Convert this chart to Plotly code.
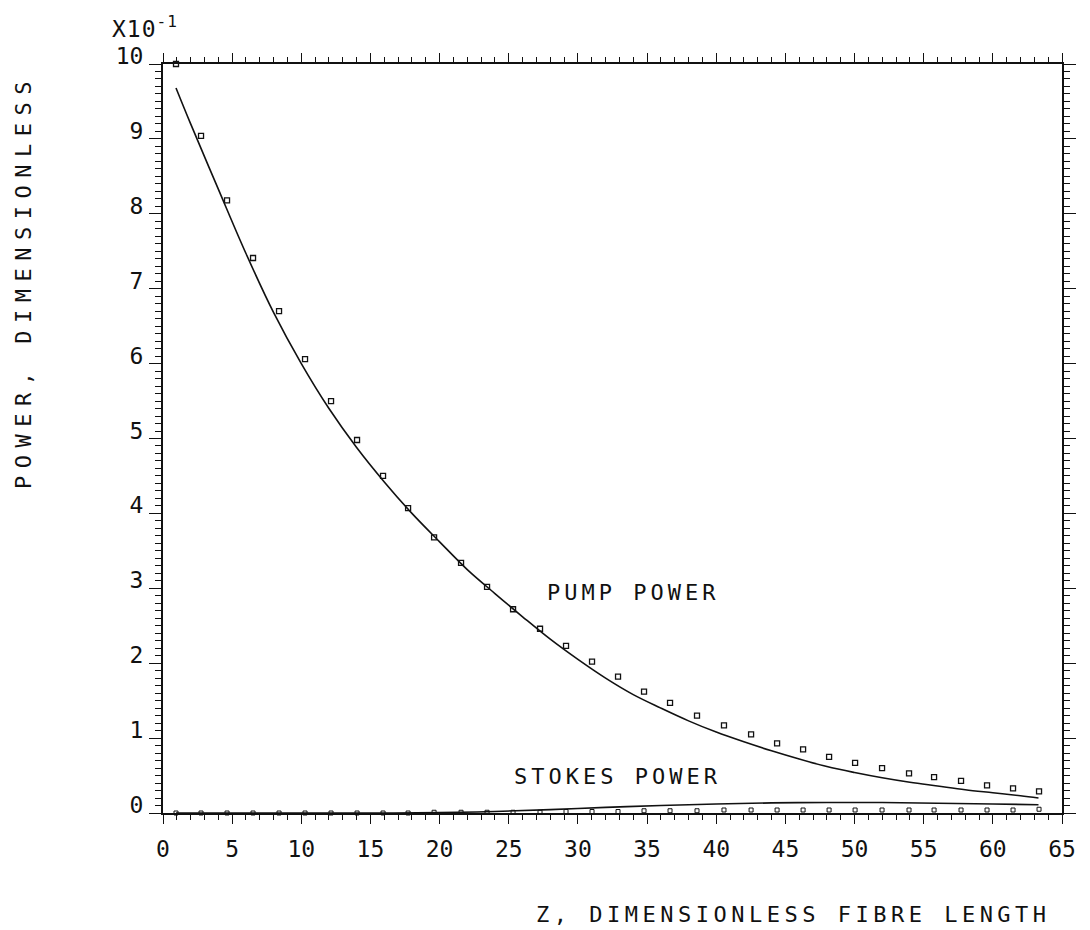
import plotly.graph_objects as go

# ---- data ----
pump_pts_z = [0.94, 2.75, 4.63, 6.51, 8.39, 10.27, 12.15, 14.03, 15.91, 17.72,
              19.60, 21.55, 23.43, 25.31, 27.26, 29.14, 31.02, 32.90, 34.78, 36.66,
              38.61, 40.56, 42.52, 44.40, 46.28, 48.16, 50.04, 51.99, 53.94, 55.75,
              57.70, 59.58, 61.46, 63.34]
pump_pts_v = [10.0, 9.04, 8.18, 7.41, 6.70, 6.06, 5.50, 4.98, 4.50, 4.07,
              3.68, 3.34, 3.02, 2.72, 2.46, 2.23, 2.02, 1.82, 1.62, 1.47,
              1.30, 1.17, 1.05, 0.93, 0.85, 0.75, 0.67, 0.60, 0.53, 0.48,
              0.43, 0.37, 0.33, 0.29]
stokes_pts_v = [0.0, 0.0, 0.0, 0.0, 0.0, 0.0, 0.0, 0.0, 0.0, 0.0,
                0.01, 0.01, 0.01, 0.01, 0.01, 0.02, 0.02, 0.02, 0.03, 0.03,
                0.03, 0.04, 0.04, 0.04, 0.04, 0.04, 0.04, 0.04, 0.04, 0.04,
                0.04, 0.04, 0.04, 0.05]

pump_line_z = [0.94, 2, 4, 6, 8, 10, 12, 14, 16, 18, 20, 22, 24, 26, 28, 30, 32,
               34, 36, 38, 40, 42, 44, 46, 48, 50, 52, 54, 56, 58, 60, 62, 63.3]
pump_line_v = [9.68, 9.20, 8.33, 7.47, 6.68, 6.00, 5.40, 4.88, 4.42, 4.00, 3.62,
               3.25, 2.93, 2.62, 2.32, 2.05, 1.80, 1.58, 1.40, 1.23, 1.08, 0.95,
               0.83, 0.72, 0.62, 0.54, 0.47, 0.41, 0.36, 0.31, 0.27, 0.23, 0.20]

stokes_line_z = [0.94, 10, 15, 20, 24, 28, 32, 36, 40, 44, 48, 52, 56, 60, 63.3]
stokes_line_v = [0.0, 0.0, 0.0, 0.005, 0.02, 0.045, 0.075, 0.10, 0.12, 0.135,
                 0.14, 0.14, 0.13, 0.12, 0.11]

x_tick_vals = [0, 5, 10, 15, 20, 25, 30, 35, 40, 45, 50, 55, 60, 65]
y_tick_vals = [0, 1, 2, 3, 4, 5, 6, 7, 8, 9, 10]

FONT = "DejaVu Sans Mono"
INK = "#111111"

fig = go.Figure()
fig.add_trace(go.Scatter(x=pump_line_z, y=pump_line_v, mode="lines",
                         line=dict(color=INK, width=1.6, shape="spline"),
                         showlegend=False, hoverinfo="skip"))
fig.add_trace(go.Scatter(x=stokes_line_z, y=stokes_line_v, mode="lines",
                         line=dict(color=INK, width=1.6, shape="spline"),
                         showlegend=False, hoverinfo="skip"))
fig.add_trace(go.Scatter(x=pump_pts_z, y=pump_pts_v, mode="markers",
                         marker=dict(symbol="square-open", size=5, color=INK,
                                     line=dict(width=1.3, color=INK)),
                         cliponaxis=False, showlegend=False))
fig.add_trace(go.Scatter(x=pump_pts_z, y=stokes_pts_v, mode="markers",
                         marker=dict(symbol="square-open", size=4, color=INK,
                                     line=dict(width=1.0, color=INK)),
                         cliponaxis=False, showlegend=False))

axis_common = dict(showline=True, linecolor=INK, linewidth=2, mirror="ticks",
                   ticks="outside", tickcolor=INK, tickwidth=1.3,
                   showgrid=False, zeroline=False,
                   tickfont=dict(family=FONT, size=23, color=INK))

fig.update_xaxes(range=[0, 65], tickvals=x_tick_vals,
                 ticktext=[str(v) for v in x_tick_vals], ticklen=9,
                 minor=dict(dtick=1, ticks="outside", ticklen=5, tickcolor=INK,
                            tickwidth=1.1, showgrid=False),
                 ticklabelstandoff=5, **axis_common)
fig.update_yaxes(range=[0, 10], tickvals=y_tick_vals,
                 ticktext=[str(v) for v in y_tick_vals], ticklen=12,
                 minor=dict(dtick=0.1, ticks="outside", ticklen=6, tickcolor=INK,
                            tickwidth=1.1, showgrid=False),
                 ticklabelstandoff=1, ticklabelshift=-8, **axis_common)


def sp(text, ls):
    return f'<span style="letter-spacing:{ls}px">{text}</span>'


fig.add_annotation(xref="paper", yref="paper", x=-0.059, y=1.049,
                   xanchor="left", yanchor="middle", showarrow=False,
                   text=sp("X10<sup>-1</sup>", 1),
                   font=dict(family=FONT, size=23, color=INK))
fig.add_annotation(xref="paper", yref="paper", x=-0.156, y=0.71,
                   xanchor="center", yanchor="middle", showarrow=False,
                   textangle=-90, text=sp("POWER, DIMENSIONLESS", 7.5),
                   font=dict(family=FONT, size=22, color=INK))
fig.add_annotation(xref="paper", yref="paper", x=0.99, y=-0.136,
                   xanchor="right", yanchor="middle", showarrow=False,
                   text=sp("Z, DIMENSIONLESS FIBRE LENGTH", 4.5),
                   font=dict(family=FONT, size=22, color=INK))
fig.add_annotation(xref="x", yref="y", x=27.6, y=2.95,
                   xanchor="left", yanchor="middle", showarrow=False,
                   text=sp("PUMP POWER", 4),
                   font=dict(family=FONT, size=22, color=INK))
fig.add_annotation(xref="x", yref="y", x=25.2, y=0.49,
                   xanchor="left", yanchor="middle", showarrow=False,
                   text=sp("STOKES POWER", 4),
                   font=dict(family=FONT, size=22, color=INK))

fig.update_layout(width=1090, height=930,
                  margin=dict(l=163, r=28, t=64, b=117),
                  paper_bgcolor="white", plot_bgcolor="white",
                  font=dict(family=FONT, color=INK))

fig.write_html("out.html")
